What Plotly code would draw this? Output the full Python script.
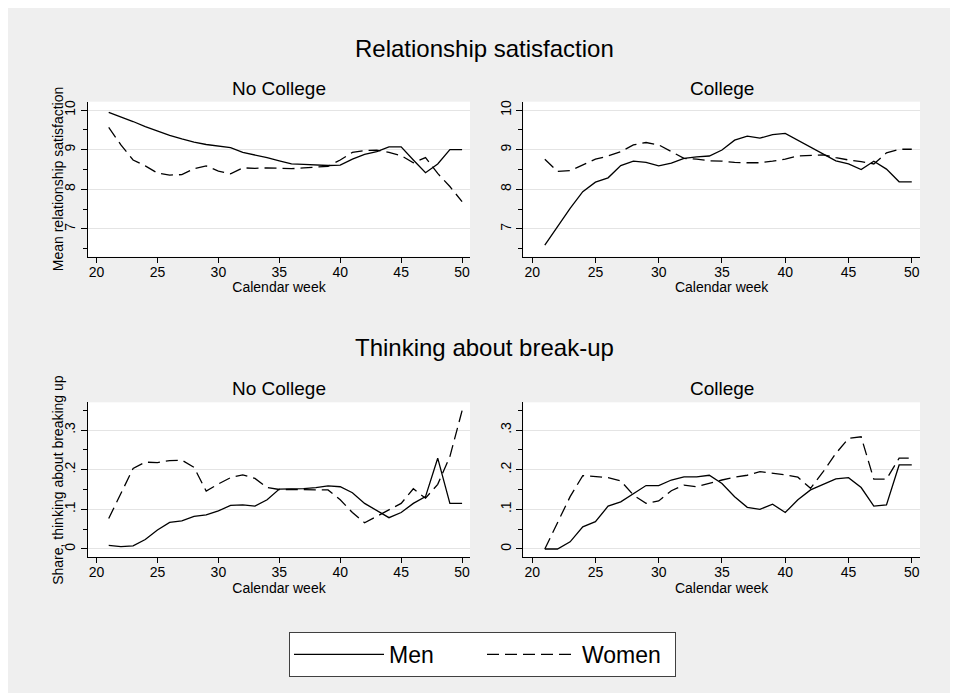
import plotly.graph_objects as go

# ---------------- data ----------------
weeks = list(range(21, 51))

sat_nocollege_men = [9.94, 9.83, 9.71, 9.58, 9.46, 9.36, 9.27, 9.19, 9.13, 9.09,
                     9.05, 8.93, 8.87, 8.80, 8.72, 8.64, 8.63, 8.62, 8.60, 8.61,
                     8.76, 8.88, 8.95, 9.07, 9.07, 8.74, 8.42, 8.64, 9.00, 9.00]
sat_nocollege_women = [9.56, 9.12, 8.74, 8.59, 8.41, 8.36, 8.37, 8.52, 8.59, 8.46,
                       8.39, 8.54, 8.53, 8.54, 8.53, 8.52, 8.54, 8.56, 8.58, 8.74,
                       8.93, 8.98, 8.99, 8.93, 8.85, 8.67, 8.80, 8.40, 8.07, 7.69]
sat_college_men = [6.59, 7.06, 7.52, 7.94, 8.18, 8.29, 8.60, 8.71, 8.68, 8.59,
                   8.66, 8.78, 8.82, 8.84, 8.99, 9.24, 9.34, 9.29, 9.38, 9.41,
                   9.24, 9.06, 8.88, 8.72, 8.64, 8.50, 8.71, 8.51, 8.19, 8.19]
sat_college_women = [8.76, 8.45, 8.47, 8.61, 8.76, 8.84, 8.95, 9.12, 9.18, 9.12,
                     8.95, 8.78, 8.76, 8.72, 8.71, 8.68, 8.67, 8.67, 8.71, 8.76,
                     8.84, 8.86, 8.87, 8.80, 8.74, 8.70, 8.64, 8.92, 9.01, 9.01]

brk_nocollege_men = [0.009, 0.006, 0.008, 0.024, 0.048, 0.067, 0.071, 0.082, 0.086, 0.096,
                     0.110, 0.111, 0.108, 0.124, 0.151, 0.152, 0.152, 0.155, 0.159, 0.157,
                     0.142, 0.115, 0.098, 0.079, 0.092, 0.115, 0.132, 0.229, 0.115, 0.115]
brk_nocollege_women = [0.077, 0.140, 0.203, 0.219, 0.218, 0.223, 0.224, 0.206, 0.146, 0.164,
                       0.180, 0.187, 0.178, 0.155, 0.150, 0.150, 0.150, 0.149, 0.149, 0.124,
                       0.092, 0.066, 0.082, 0.098, 0.115, 0.152, 0.128, 0.163, 0.233, 0.349]
brk_college_men = [0.000, 0.000, 0.018, 0.056, 0.069, 0.108, 0.119, 0.140, 0.160, 0.160,
                   0.174, 0.182, 0.182, 0.186, 0.165, 0.132, 0.105, 0.100, 0.113, 0.092,
                   0.124, 0.149, 0.164, 0.177, 0.180, 0.155, 0.108, 0.111, 0.212, 0.212]
brk_college_women = [0.000, 0.065, 0.132, 0.185, 0.182, 0.180, 0.172, 0.136, 0.115, 0.121,
                     0.147, 0.161, 0.157, 0.166, 0.174, 0.181, 0.186, 0.195, 0.191, 0.187,
                     0.181, 0.153, 0.195, 0.241, 0.279, 0.283, 0.176, 0.176, 0.229, 0.229]

x_tickvals = [20, 25, 30, 35, 40, 45, 50]
sat_tickvals = [7, 8, 9, 10]
sat_ticktext = ["7", "8", "9", "10"]
brk_tickvals = [0, 0.1, 0.2, 0.3]
brk_ticktext = ["0", ".1", ".2", ".3"]

series_names = ["Men", "Women"]
panel_titles = ["No College", "College"]
section_titles = ["Relationship satisfaction", "Thinking about break-up"]
x_title = "Calendar week"
y_titles = ["Mean relationship satisfaction", "Share, thinking about breaking up"]

# ---------------- layout helpers ----------------
W, H = 958, 693
OFF = 8  # page body margin: screen position = paper position + 8
FONT = "Liberation Sans, Arial, Helvetica, sans-serif"


def fx(p):
    return (p - OFF) / W


def fy(p):
    return 1 - (p - OFF) / H


dom_left = [fx(88), fx(470)]
dom_right = [fx(523.3), fx(920)]
dom_top = [fy(256.7), fy(101.7)]
dom_bot = [fy(557.3), fy(402.3)]

fig = go.Figure()

panels = [
    ("x", "y", sat_nocollege_men, sat_nocollege_women),
    ("x2", "y2", sat_college_men, sat_college_women),
    ("x3", "y3", brk_nocollege_men, brk_nocollege_women),
    ("x4", "y4", brk_college_men, brk_college_women),
]

for i, (xa, ya, men, women) in enumerate(panels):
    fig.add_trace(go.Scatter(
        x=weeks, y=men, xaxis=xa, yaxis=ya, mode="lines", name=series_names[0],
        legendgroup="men", showlegend=(i == 0),
        line=dict(color="black", width=1.3)))
    fig.add_trace(go.Scatter(
        x=weeks, y=women, xaxis=xa, yaxis=ya, mode="lines", name=series_names[1],
        legendgroup="women", showlegend=(i == 0),
        line=dict(color="black", width=1.3, dash="12px,6px")))

xcommon = dict(range=[19.3, 50.65], tickvals=x_tickvals, ticks="outside", ticklen=5,
               tickcolor="black", showline=True, linecolor="black", linewidth=1,
               showgrid=False, zeroline=False, tickfont=dict(size=14, color="black"),
               ticklabelstandoff=-3,
               title=dict(text=x_title, font=dict(size=14, color="black"), standoff=0),
               automargin=False)

ycommon = dict(ticks="outside", ticklen=6, tickcolor="black", showline=True,
               linecolor="black", linewidth=1, showgrid=True, gridcolor="#e4e4e4",
               gridwidth=1, zeroline=False, tickangle=-90,
               tickfont=dict(size=14, color="black"), automargin=False)

sat_y = dict(ycommon, range=[6.3, 10.21], tickvals=sat_tickvals, ticktext=sat_ticktext,
             minor=dict(dtick=0.5, tick0=0, ticks="outside", ticklen=4,
                        tickcolor="black", showgrid=False))
brk_y = dict(ycommon, range=[-0.021, 0.37], tickvals=brk_tickvals, ticktext=brk_ticktext,
             minor=dict(dtick=0.05, tick0=0, ticks="outside", ticklen=4,
                        tickcolor="black", showgrid=False))

fig.update_layout(
    width=W, height=H,
    margin=dict(l=0, r=0, t=0, b=0),
    paper_bgcolor="#efefef",
    plot_bgcolor="white",
    font=dict(family=FONT, color="black"),
    xaxis=dict(xcommon, domain=dom_left, anchor="y"),
    yaxis=dict(sat_y, domain=dom_top, anchor="x"),
    xaxis2=dict(xcommon, domain=dom_right, anchor="y2"),
    yaxis2=dict(sat_y, domain=dom_top, anchor="x2"),
    xaxis3=dict(xcommon, domain=dom_left, anchor="y3"),
    yaxis3=dict(brk_y, domain=dom_bot, anchor="x3"),
    xaxis4=dict(xcommon, domain=dom_right, anchor="y4"),
    yaxis4=dict(brk_y, domain=dom_bot, anchor="x4"),
    showlegend=True,
    legend=dict(orientation="h", x=fx(289), xanchor="left", y=fy(632), yanchor="top",
                bgcolor="white", bordercolor="#404040", borderwidth=1,
                font=dict(size=23, color="black"), itemwidth=90,
                entrywidth=88, tracegroupgap=0),
)

annotations = [
    dict(text=section_titles[0], x=fx(484), y=fy(48), size=24, angle=0),
    dict(text=section_titles[1], x=fx(484), y=fy(347), size=24, angle=0),
    dict(text=panel_titles[0], x=fx(279), y=fy(88), size=19, angle=0),
    dict(text=panel_titles[1], x=fx(721.7), y=fy(88), size=19, angle=0),
    dict(text=panel_titles[0], x=fx(279), y=fy(388), size=19, angle=0),
    dict(text=panel_titles[1], x=fx(721.7), y=fy(388), size=19, angle=0),
    # y-axis titles of the left panels
    dict(text=y_titles[0], x=fx(58), y=fy(179.2), size=14, angle=-90),
    dict(text=y_titles[1], x=fx(58), y=fy(479.8), size=14, angle=-90),
]
for a in annotations:
    fig.add_annotation(text=a["text"], x=a["x"], y=a["y"], xref="paper", yref="paper",
                       xanchor="center", yanchor="middle", showarrow=False,
                       textangle=a["angle"],
                       font=dict(size=a["size"], color="black", family=FONT))

fig.write_html("out.html")
